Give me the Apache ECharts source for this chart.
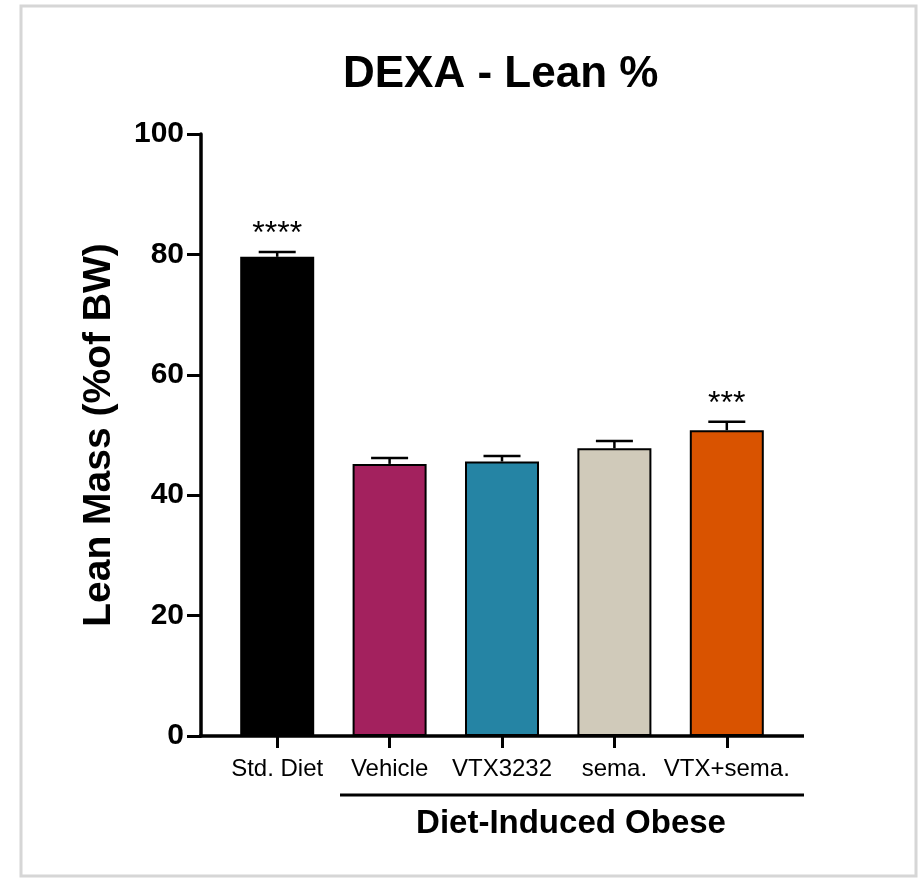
<!DOCTYPE html>
<html>
<head>
<meta charset="utf-8">
<title>DEXA - Lean %</title>
<script src="https://cdn.jsdelivr.net/npm/echarts@6/dist/echarts.min.js"></script>
<style>
  html, body { margin: 0; padding: 0; background: #ffffff; }
  #chart { width: 920px; height: 879px; }
</style>
</head>
<body>
<div id="chart"></div>
<script>
// Groups, mean lean mass (% of body weight) and SEM
const categories = ['Std. Diet', 'Vehicle', 'VTX3232', 'sema.', 'VTX+sema.'];
const leanMeans = [79.6, 45.2, 45.6, 47.8, 50.8];
const leanSem = [0.8, 1.0, 0.9, 1.2, 1.4];
const significance = ['****', '', '', '', '***'];
const barColors = ['#000000', '#A3215E', '#2584A4', '#D0CABA', '#D95300'];
const yTicks = { min: 0, max: 100, interval: 20 };
const groupLabel = 'Diet-Induced Obese';

const FONT = '"Liberation Sans", Arial, Helvetica, sans-serif';

const chart = echarts.init(document.getElementById('chart'), null, { renderer: 'canvas' });

const option = {
  backgroundColor: '#ffffff',
  animation: false,
  title: {
    text: 'DEXA - Lean %',
    left: 338,
    top: 48,
    textStyle: { fontFamily: FONT, fontWeight: 'bold', fontSize: 44, color: '#000' }
  },
  grid: { left: 221, right: 137, top: 134, bottom: 143, containLabel: false },
  xAxis: {
    type: 'category',
    data: categories,
    boundaryGap: true,
    axisLine: { show: false },
    axisTick: { show: true, alignWithLabel: true, length: 12, lineStyle: { color: '#000', width: 3 } },
    axisLabel: { fontFamily: FONT, fontSize: 24, color: '#000', margin: 21, interval: 0 },
    splitLine: { show: false }
  },
  yAxis: {
    type: 'value',
    min: yTicks.min,
    max: yTicks.max,
    interval: yTicks.interval,
    offset: 20,
    name: 'Lean Mass (%of BW)',
    nameLocation: 'middle',
    nameRotate: 90,
    nameGap: 82,
    nameTextStyle: { fontFamily: FONT, fontWeight: 'bold', fontSize: 39, color: '#000' },
    axisLine: { show: true, lineStyle: { color: '#000', width: 3.5 } },
    axisTick: { show: true, length: 14, lineStyle: { color: '#000', width: 3 } },
    axisLabel: { fontFamily: FONT, fontWeight: 'bold', fontSize: 30, color: '#000', margin: 17,
      padding: [5, 0, 0, 0] },
    splitLine: { show: false }
  },
  series: [
    {
      type: 'bar',
      barWidth: 74,
      data: leanMeans.map((v, i) => ({
        value: v,
        itemStyle: { color: barColors[i], borderColor: '#000', borderWidth: 2 }
      })),
      z: 2
    },
    {
      // upper SEM whisker with cap, plus the significance marker above it
      type: 'custom',
      z: 3,
      data: leanMeans.map((v, i) => [i, v, leanSem[i]]),
      renderItem: function (params, api) {
        const i = api.value(0);
        const mean = api.value(1);
        const sem = api.value(2);
        const base = api.coord([i, mean]);
        const top = api.coord([i, mean + sem]);
        const half = 18.5;
        const children = [
          { type: 'line', shape: { x1: base[0], y1: base[1], x2: top[0], y2: top[1] },
            style: { stroke: '#000', lineWidth: 2.5 } },
          { type: 'line', shape: { x1: top[0] - half, y1: top[1], x2: top[0] + half, y2: top[1] },
            style: { stroke: '#000', lineWidth: 2.5 } }
        ];
        const mark = significance[params.dataIndex];
        if (mark) {
          children.push({
            type: 'text',
            style: {
              text: mark, x: top[0], y: top[1] - 2,
              align: 'center', verticalAlign: 'bottom',
              fontFamily: FONT, fontSize: 32, fill: '#000'
            }
          });
        }
        return { type: 'group', children: children };
      }
    }
  ],
  graphic: [
    // light frame around the figure
    { type: 'rect', shape: { x: 21, y: 6, width: 895, height: 870 },
      style: { fill: 'none', stroke: '#d6d6d6', lineWidth: 3 }, z: 0 },
    // x baseline spanning from the y axis past the last bar
    { type: 'line', shape: { x1: 199, y1: 736, x2: 804, y2: 736 },
      style: { stroke: '#000', lineWidth: 3.5 }, z: 10 },
    // bracket under the diet-induced obese groups
    { type: 'line', shape: { x1: 340, y1: 795, x2: 804, y2: 795 },
      style: { stroke: '#000', lineWidth: 3 }, z: 10 },
    { type: 'text', x: 571, y: 824, z: 10,
      style: { text: groupLabel, align: 'center', verticalAlign: 'middle',
        fontFamily: FONT, fontWeight: 'bold', fontSize: 33, fill: '#000' } }
  ]
};

chart.setOption(option);
</script>
</body>
</html>
